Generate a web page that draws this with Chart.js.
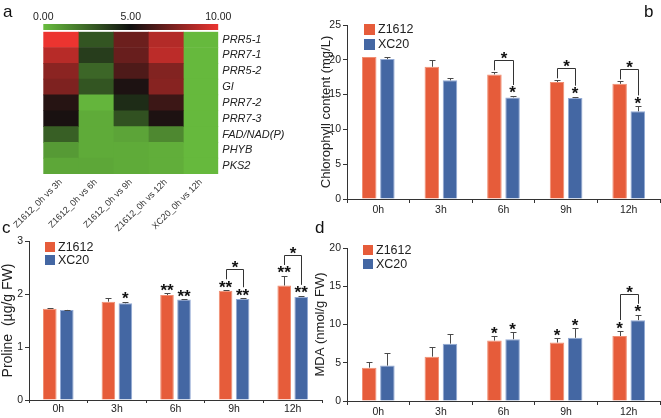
<!DOCTYPE html>
<html>
<head>
<meta charset="utf-8">
<script src="https://cdn.jsdelivr.net/npm/chart.js@4.4.1/dist/chart.umd.min.js"></script>
<style>
  body { margin: 0; background: #fff; }
  #wrap { position: relative; width: 661px; height: 418px; overflow: hidden; font-family: "Liberation Sans", Arial, sans-serif; }
  .box { position: absolute; }
  .lab { position: absolute; font-size: 17px; line-height: 17px; color: #111; }
</style>
</head>
<body>
<div id="wrap">
  <div class="box" style="left:0;top:0;width:330px;height:232px"><canvas id="heat"></canvas></div>
  <div class="box" style="left:0;top:0;width:330px;height:32px"><canvas id="scaleBar"></canvas></div>
  <div class="box" style="left:313px;top:0;width:348px;height:218px"><canvas id="chlo"></canvas></div>
  <div class="box" style="left:0;top:215px;width:330px;height:203px"><canvas id="pro"></canvas></div>
  <div class="box" style="left:313px;top:215px;width:348px;height:203px"><canvas id="mda"></canvas></div>
  <div class="lab" style="left:3px;top:3px">a</div>
  <div class="lab" style="left:644px;top:3px">b</div>
  <div class="lab" style="left:2px;top:219px">c</div>
  <div class="lab" style="left:315px;top:219px">d</div>
</div>
<script>
// heatmap data (colour scale 0-10)
const genes = ["PRR5-1", "PRR7-1", "PRR5-2", "GI", "PRR7-2", "PRR7-3", "FAD/NAD(P)", "PHYB", "PKS2"];
const comparisons = ["Z1612_0h vs 3h", "Z1612_0h vs 6h", "Z1612_0h vs 9h", "Z1612_0h vs 12h", "XC20_0h vs 12h"];
const heatZ3h = [10, 8.8, 7.8, 7.5, 5.5, 5.2, 2.7, 1.0, 0.6];
const heatZ6h = [3.0, 3.7, 2.5, 3.0, 0.2, 0.5, 0.5, 0.5, 0.6];
const heatZ9h = [7.1, 7.0, 6.4, 5.3, 4.2, 3.1, 0.7, 0.5, 0.5];
const heatZ12h = [8.7, 8.9, 7.6, 7.7, 6.0, 5.3, 1.5, 0.4, 0.4];
const heatX12h = [0.1, 0.1, 0.1, 0.1, 0.1, 0.1, 0.1, 0.1, 0.1];
const colorTicks = [0, 5, 10];

// bar panels
const hours = ["0h", "3h", "6h", "9h", "12h"];
const chloZ = [20.4, 19.0, 17.9, 16.8, 16.55];
const chloZErr = [0, 0.9, 0.3, 0.25, 0.35];
const chloX = [20.1, 17.05, 14.6, 14.5, 12.6];
const chloXErr = [0.3, 0.4, 0.2, 0.2, 0.7];
const chloZSig = ["", "", "", "", ""];
const chloXSig = ["", "", "*", "*", "*"];
const chloPair = ["", "", "*", "*", "*"];

const proZ = [1.72, 1.855, 1.98, 2.06, 2.16];
const proZErr = [0.01, 0.075, 0.03, 0.01, 0.18];
const proX = [1.70, 1.825, 1.895, 1.905, 1.945];
const proXErr = [0.005, 0.03, 0.01, 0.015, 0.02];
const proZSig = ["", "", "**", "**", "**"];
const proXSig = ["", "*", "**", "**", "**"];
const proPair = ["", "", "", "*", "*"];

const mdaZ = [4.36, 5.8, 7.9, 7.64, 8.5];
const mdaZErr = [0.8, 1.3, 0.55, 0.55, 0.65];
const mdaX = [4.63, 7.5, 8.08, 8.26, 10.57];
const mdaXErr = [1.6, 1.25, 0.9, 1.25, 0.7];
const mdaZSig = ["", "", "*", "*", "*"];
const mdaXSig = ["", "", "*", "*", "*"];
const mdaPair = ["", "", "", "", "*"];

const FONT = '"Liberation Sans", Arial, sans-serif';
Chart.defaults.font.family = FONT;
Chart.defaults.animation = false;
Chart.defaults.plugins.tooltip.enabled = false;

const orange = "#E65C3A", blue = "#4467A3";
const axisCol = "#333";

// green -> black -> red
const cGreen = [104, 188, 62], cBlack = [16, 16, 16], cRed = [236, 52, 48];
function heatColor(v) {
  let a, b, t;
  if (v <= 5) { a = cGreen; b = cBlack; t = v / 5; } else { a = cBlack; b = cRed; t = (v - 5) / 5; }
  const c = a.map((x, i) => Math.round(x + (b[i] - x) * t));
  return "rgb(" + c.join(",") + ")";
}

//heatmap
const heatCols = [heatZ3h, heatZ6h, heatZ9h, heatZ12h, heatX12h];
new Chart(document.getElementById("heat"), {
  type: "bar",
  data: {
    labels: genes,
    datasets: heatCols.map(col => ({
      data: genes.map(() => 1),
      backgroundColor: col.map(heatColor),
      borderWidth: 0,
      barPercentage: 1,
      categoryPercentage: 1
    }))
  },
  options: {
    indexAxis: "y",
    responsive: true,
    maintainAspectRatio: false,
    layout: { padding: { left: 43.3, top: 31.7, right: 0, bottom: 0 } },
    plugins: { legend: { display: false } },
    scales: {
      x: { type: "linear", stacked: true, min: 0, max: 5, display: false },
      cols: {
        type: "category", axis: "x", position: "bottom", labels: comparisons, offset: true,
        grid: { display: false, drawTicks: false }, border: { display: false },
        ticks: { minRotation: 45, maxRotation: 45, autoSkip: false, font: { size: 9 }, color: "#333", padding: 3 },
        afterFit: s => { s.height = 58; }
      },
      y: {
        type: "category", position: "right", stacked: true,
        grid: { display: false, drawTicks: false }, border: { display: false },
        ticks: { autoSkip: false, font: { size: 11, style: "italic" }, color: "#222", padding: 4 },
        afterFit: s => { s.width = 111.7; }
      }
    }
  }
});

//colour key
new Chart(document.getElementById("scaleBar"), {
  type: "bar",
  data: {
    labels: ["key"],
    datasets: [{
      data: [10],
      borderWidth: 0,
      barPercentage: 1,
      categoryPercentage: 1,
      backgroundColor: c => {
        const a = c.chart.chartArea;
        if (!a) return "#000";
        const g = c.chart.ctx.createLinearGradient(a.left, 0, a.right, 0);
        g.addColorStop(0, heatColor(0));
        g.addColorStop(0.5, heatColor(5));
        g.addColorStop(1, heatColor(10));
        return g;
      }
    }]
  },
  options: {
    indexAxis: "y",
    responsive: true,
    maintainAspectRatio: false,
    layout: { padding: { left: 43.3, right: 111.7, top: 0, bottom: 2 } },
    plugins: { legend: { display: false } },
    scales: {
      x: {
        min: 0, max: 10, position: "top",
        afterBuildTicks: s => { s.ticks = colorTicks.map(v => ({ value: v })); },
        grid: { display: false, drawTicks: false }, border: { display: false },
        ticks: { callback: v => v.toFixed(2), font: { size: 10.5 }, color: "#222", padding: 1 },
        afterFit: s => { s.height = 24; }
      },
      y: { display: false }
    }
  }
});

// bars: error bars, stars, brackets, legend
function drawStar(ctx, s, x, cy) {
  ctx.save();
  ctx.font = "bold 17px " + FONT;
  ctx.fillStyle = "#111";
  ctx.textAlign = "center";
  ctx.textBaseline = "alphabetic";
  const m = ctx.measureText(s);
  ctx.fillText(s, x, cy + (m.actualBoundingBoxAscent - m.actualBoundingBoxDescent) / 2);
  ctx.restore();
}

const marks = {
  id: "marks",
  afterDatasetsDraw(chart, args, opts) {
    const ctx = chart.ctx;
    const ys = chart.scales.y;
    const area = chart.chartArea;
    const legBottom = [[], []];
    ctx.save();
    chart.data.datasets.forEach((ds, di) => {
      chart.getDatasetMeta(di).data.forEach((bar, i) => {
        const x = Math.round(bar.x) + 0.5;
        const yTop = ys.getPixelForValue(ds.data[i]);
        const yErr = ys.getPixelForValue(ds.data[i] + ds.err[i]);
        const ye = Math.round(yErr) + 0.5;
        ctx.strokeStyle = "#4a4a4a";
        ctx.lineWidth = 1;
        if (ds.err[i] > 0) {
          ctx.beginPath();
          ctx.moveTo(x, yTop);
          ctx.lineTo(x, ye);
          ctx.moveTo(x - 3, ye);
          ctx.lineTo(x + 3, ye);
          ctx.stroke();
        }
        let leg = yErr - 2;
        if (ds.sig[i]) {
          const cy = yErr - 6;
          drawStar(ctx, ds.sig[i], bar.x, cy);
          leg = cy - 5;
        }
        legBottom[di][i] = leg;
      });
    });

    const m0 = chart.getDatasetMeta(0).data, m1 = chart.getDatasetMeta(1).data;
    opts.pairs.forEach((s, i) => {
      if (!s) return;
      const x0 = Math.round(m0[i].x) + 0.5, x1 = Math.round(m1[i].x) + 0.5;
      const top = Math.round(Math.min(legBottom[0][i], legBottom[1][i]) - 10) + 0.5;
      ctx.strokeStyle = "#333";
      ctx.lineWidth = 1;
      ctx.beginPath();
      ctx.moveTo(x0, legBottom[0][i]);
      ctx.lineTo(x0, top);
      ctx.lineTo(x1, top);
      ctx.lineTo(x1, legBottom[1][i]);
      ctx.stroke();
      drawStar(ctx, s, (x0 + x1) / 2, top - 5);
    });

    const L = opts.legend;
    chart.data.datasets.forEach((ds, di) => {
      const bx = Math.round(area.left + L.dx), by = Math.round(area.top + L.dy + di * L.step);
      ctx.fillStyle = ds.backgroundColor;
      ctx.fillRect(bx, by, L.box, L.box);
      ctx.fillStyle = "#222";
      ctx.font = L.size + "px " + FONT;
      ctx.textBaseline = "middle";
      ctx.textAlign = "left";
      ctx.fillText(ds.label, bx + L.box + 3, by + L.box / 2 + 0.5);
    });
    ctx.restore();
  }
};

function barPanel(id, p) {
  return new Chart(document.getElementById(id), {
    type: "bar",
    data: {
      labels: hours,
      datasets: [
        { label: "Z1612", data: p.z, err: p.zErr, sig: p.zSig, backgroundColor: orange, borderColor: "#F08E72", borderWidth: 1, categoryPercentage: 0.58, barPercentage: 0.8 },
        { label: "XC20", data: p.x, err: p.xErr, sig: p.xSig, backgroundColor: blue, borderColor: "#93AAD4", borderWidth: 1, categoryPercentage: 0.58, barPercentage: 0.8 }
      ]
    },
    options: {
      responsive: true,
      maintainAspectRatio: false,
      layout: { padding: p.pad },
      plugins: {
        legend: { display: false },
        marks: { pairs: p.pairs, legend: p.legend }
      },
      scales: {
        x: {
          grid: { drawOnChartArea: false, drawTicks: true, tickLength: p.xTick, color: axisCol, offset: true },
          border: { color: axisCol },
          ticks: { color: "#222", font: { size: 10.5 }, padding: p.xPad },
          afterFit: s => { s.height = p.xh; }
        },
        y: {
          min: 0, max: p.max,
          ticks: { stepSize: p.step, color: "#222", font: { size: 10.5 }, padding: 2 },
          grid: { drawOnChartArea: false, tickLength: 4, color: axisCol },
          border: { color: axisCol },
          title: { display: true, text: p.title, color: "#222", font: { size: p.tSize }, padding: { top: p.tPad, bottom: 0 } },
          afterFit: s => { s.width = p.yw; }
        }
      }
    },
    plugins: [marks]
  });
}

barPanel("chlo", {
  z: chloZ, zErr: chloZErr, zSig: chloZSig, x: chloX, xErr: chloXErr, xSig: chloXSig, pairs: chloPair,
  max: 25, step: 5, title: "Chlorophyll content (mg/L)", tSize: 13, tPad: 6,
  pad: { left: 0, top: 25, right: 1, bottom: 0 }, yw: 34, xh: 19, xTick: 4, xPad: 1,
  legend: { dx: 17, dy: -1, step: 15, box: 11, size: 12.5 }
});

barPanel("pro", {
  z: proZ, zErr: proZErr, zSig: proZSig, x: proX, xErr: proXErr, xSig: proXSig, pairs: proPair,
  max: 3, step: 1, title: "Proline  (\u00b5g/g FW)", tSize: 14, tPad: 0,
  pad: { left: 0, top: 26, right: 8, bottom: 0 }, yw: 29, xh: 18, xTick: 3, xPad: 0,
  legend: { dx: 16, dy: 1, step: 13, box: 10, size: 12.5 }
});

barPanel("mda", {
  z: mdaZ, zErr: mdaZErr, zSig: mdaZSig, x: mdaX, xErr: mdaXErr, xSig: mdaXSig, pairs: mdaPair,
  max: 20, step: 5, title: "MDA (nmol/g FW)", tSize: 13, tPad: 0,
  pad: { left: 0, top: 33, right: 1, bottom: 0 }, yw: 34, xh: 17, xTick: 4, xPad: 1,
  legend: { dx: 16, dy: -3, step: 14, box: 10, size: 12.5 }
});
</script>
</body>
</html>
